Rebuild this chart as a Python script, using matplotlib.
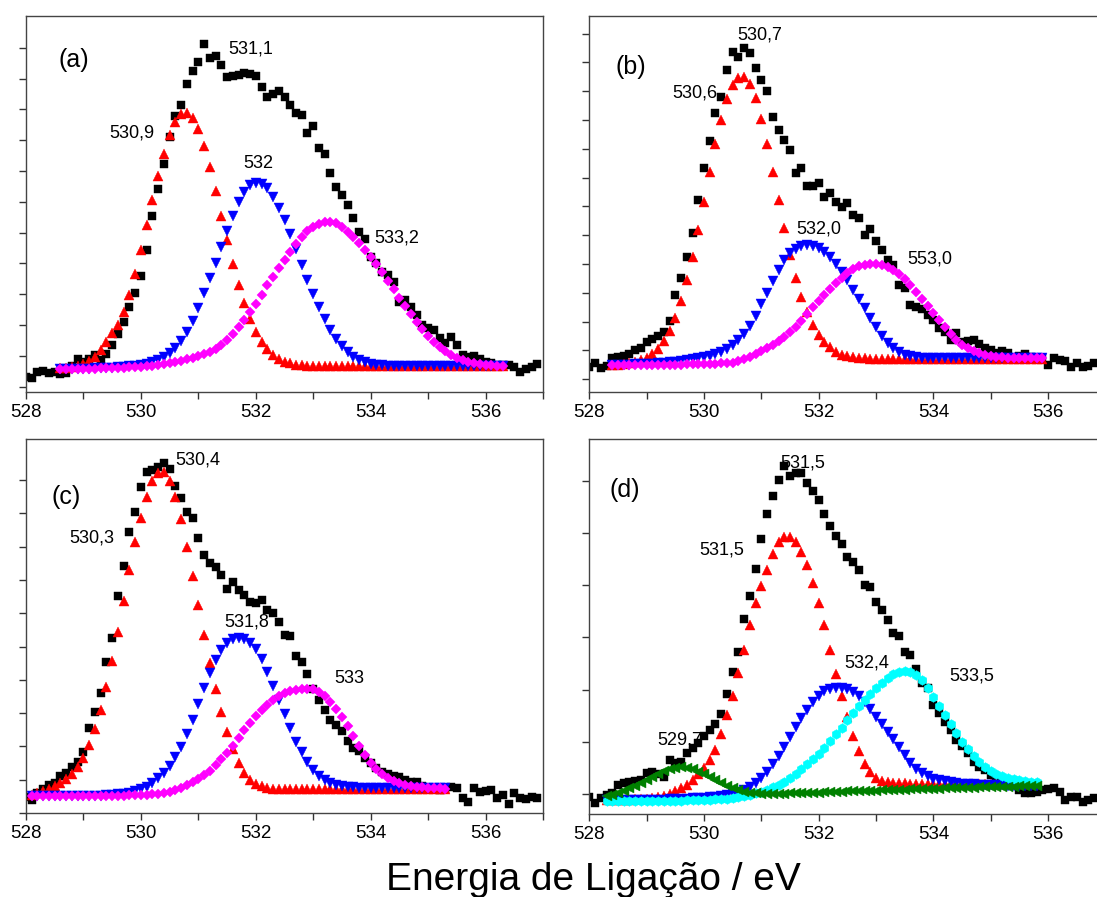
import numpy as np
import matplotlib
matplotlib.use('Agg')
import matplotlib.pyplot as plt
from matplotlib.ticker import MultipleLocator, FormatStrFormatter

# O1s spectra, intensity in arbitrary units, binding energy sampled every 0.1 eV
step_eV = 0.1

# ---- (a) ----
a_exp_start = 528.0
a_exp = [15, 14, 20, 21, 19, 20, 18, 19, 26, 33,
         30, 33, 37, 32, 38, 47, 58, 70, 85, 99,
         116, 142, 176, 203, 228, 255, 276, 287, 308, 321,
         330, 348, 334, 336, 327, 315, 316, 317, 319, 318,
         316, 305, 295, 298, 301, 295, 287, 279, 277, 259,
         266, 244, 238, 219, 205, 197, 187, 174, 160, 153,
         135, 129, 120, 117, 110, 90, 92, 85, 77, 67,
         64, 62, 54, 49, 55, 47, 37, 35, 36, 33,
         30, 29, 27, 27, 27, 25, 20, 23, 25, 28]
a_fit_start = 528.6
a_red = [24, 24, 25, 26, 28, 31, 35, 42, 50, 59, 67, 80, 97, 118,
         142, 167, 192, 216, 238, 257, 270, 278, 279, 274,
         263, 246, 225, 201, 176, 152, 128, 107, 89, 73,
         60, 50, 43, 37, 33, 30, 29, 27, 27, 26,
         26, 26, 26, 26, 26, 26, 26, 26, 26, 26,
         26, 26, 26, 26, 26, 26, 26, 26, 26, 26,
         26, 26, 26, 26, 26, 26, 26, 26, 26, 26,
         26, 26, 26, 26]
a_blue = [23, 23, 23, 23, 23, 23, 24, 24, 24, 24, 25, 25, 26, 26,
          27, 28, 30, 32, 35, 39, 44, 51, 60, 71,
          84, 99, 114, 129, 145, 161, 176, 190, 200, 207,
          209, 208, 204, 195, 184, 172, 158, 143, 127, 112,
          98, 85, 73, 62, 53, 46, 40, 35, 32, 30,
          28, 27, 27, 26, 26, 26, 26, 26, 26, 26,
          26, 26, 26, 26, 26, 26, 26, 26, 26, 26,
          26, 26, 26, 26]
a_magenta = [23, 23, 23, 23, 23, 23, 23, 24, 24, 24, 24, 24, 25, 25,
             25, 26, 26, 27, 28, 29, 30, 31, 33, 34,
             36, 38, 40, 43, 47, 52, 58, 65, 72, 80,
             88, 97, 107, 115, 124, 132, 140, 148, 155, 161,
             165, 168, 170, 170, 169, 165, 160, 155, 149, 142,
             135, 128, 120, 111, 103, 94, 86, 78, 70, 63,
             56, 50, 45, 41, 37, 34, 32, 30, 29, 28,
             27, 27, 26, 26]
a_labels = ['(a)', '531,1', '530,9', '532', '533,2']

# ---- (b) ----
b_exp_start = 528.0
b_exp = [25, 29, 24, 26, 34, 35, 36, 38, 42, 44,
         50, 53, 56, 60, 71, 97, 114, 135, 159, 192,
         224, 251, 279, 295, 322, 340, 335, 344, 339, 324,
         312, 301, 275, 262, 252, 242, 219, 224, 206, 206,
         209, 195, 199, 190, 185, 189, 177, 174, 157, 163,
         151, 142, 132, 127, 107, 104, 87, 85, 83, 77,
         72, 64, 60, 52, 59, 50, 51, 52, 48, 44,
         42, 39, 41, 39, 34, 36, 38, 35, 34, 34,
         27, 34, 32, 31, 25, 29, 25, 26, 29]
b_fit_start = 528.4
b_red = [27, 27, 28, 29, 30, 32,
         34, 38, 43, 51, 61, 74, 91, 112, 135, 162,
         190, 220, 248, 272, 293, 307, 314, 315, 308, 294,
         273, 248, 220, 192, 164, 137, 114, 95, 80, 67,
         57, 50, 45, 40, 37, 36, 35, 34, 34, 33,
         33, 33, 33, 33, 33, 33, 33, 33, 33, 33,
         33, 33, 33, 33, 33, 33, 33, 33, 33, 33,
         33, 33, 33, 33, 33, 33, 33, 33, 33, 33]
b_blue = [27, 27, 27, 27, 28, 28,
          28, 28, 29, 29, 30, 30, 31, 32, 33, 34,
          35, 36, 38, 40, 43, 47, 52, 58, 66, 76,
          88, 99, 111, 122, 132, 139, 143, 146, 147, 146,
          144, 140, 135, 128, 120, 112, 102, 93, 84, 74,
          65, 56, 49, 44, 40, 37, 36, 35, 34, 34,
          34, 34, 34, 34, 34, 34, 34, 34, 34, 34,
          34, 34, 34, 34, 34, 34, 34, 34, 34, 34]
b_magenta = [27, 27, 27, 27, 27, 27,
             27, 27, 27, 27, 27, 27, 27, 28, 28, 28,
             28, 28, 28, 29, 29, 29, 31, 33, 35, 38,
             41, 44, 47, 51, 55, 60, 65, 71, 78, 85,
             91, 97, 103, 109, 114, 119, 123, 126, 127, 128,
             128, 127, 125, 122, 118, 113, 107, 100, 93, 86,
             79, 72, 65, 58, 52, 47, 44, 41, 39, 37,
             36, 35, 35, 34, 34, 34, 34, 34, 34, 34]
b_labels = ['(b)', '530,7', '530,6', '532,0', '553,0']

# ---- (c) ----
c_exp_start = 528.0
c_exp = [16, 13, 20, 24, 28, 30, 37, 40, 46, 51,
         61, 85, 101, 120, 151, 175, 217, 247, 281, 301,
         326, 341, 343, 346, 350, 344, 327, 315, 301, 295,
         275, 258, 250, 246, 238, 224, 231, 223, 218, 211,
         210, 213, 203, 200, 191, 178, 177, 157, 151, 139,
         124, 113, 103, 93, 88, 82, 72, 65, 62, 55,
         50, 45, 41, 39, 37, 36, 33, 31, 31, 27,
         25, 24, 23, 24, 26, 25, 15, 11, 25, 21,
         22, 23, 15, 18, 9, 20, 15, 14, 16, 15]
c_fit_start = 528.1
c_red = [18, 20, 22, 24, 27, 30, 34, 39, 46,
         55, 68, 84, 103, 126, 152, 181, 212, 243, 271,
         295, 316, 332, 340, 341, 332, 316, 294, 266, 237,
         208, 178, 150, 124, 101, 81, 64, 50, 40, 33,
         29, 27, 25, 24, 24, 24, 24, 24, 24, 24,
         24, 24, 24, 24, 24, 24, 24, 24, 24, 24,
         24, 24, 24, 24, 24, 24, 24, 24, 24, 24,
         24, 24, 24, 24]
c_blue = [17, 17, 17, 17, 17, 17, 17, 17, 17,
          17, 17, 17, 17, 18, 18, 19, 19, 20, 22,
          24, 26, 30, 35, 40, 47, 56, 66, 79, 93,
          109, 125, 140, 153, 163, 170, 174, 175, 174, 170,
          164, 154, 141, 127, 113, 99, 85, 71, 61, 51,
          43, 37, 33, 30, 28, 27, 26, 26, 25, 25,
          25, 25, 25, 25, 25, 25, 25, 25, 25, 25,
          25, 25, 25, 25]
c_magenta = [17, 17, 17, 17, 17, 17, 17, 17, 17,
             17, 17, 17, 17, 17, 17, 17, 17, 18, 18,
             18, 18, 19, 19, 20, 21, 23, 25, 28, 31,
             34, 38, 42, 48, 54, 60, 67, 75, 83, 90,
             97, 103, 108, 113, 117, 120, 122, 123, 124, 124,
             124, 121, 117, 111, 104, 96, 87, 77, 67, 58,
             50, 44, 39, 35, 32, 30, 28, 27, 26, 26,
             25, 25, 25, 24]
c_labels = ['(c)', '530,4', '530,3', '531,8', '533']

# ---- (d) ----
d_exp_start = 528.0
d_exp = [17, 11, 16, 19, 21, 29, 31, 32, 33, 34,
         41, 42, 40, 37, 54, 51, 52, 61, 66, 71,
         78, 84, 90, 100, 120, 142, 162, 195, 218, 245,
         275, 300, 318, 334, 348, 338, 341, 341, 331, 323,
         314, 300, 288, 278, 270, 257, 252, 244, 229, 227,
         212, 204, 194, 181, 178, 162, 159, 145, 131, 126,
         109, 101, 92, 84, 74, 68, 61, 52, 47, 44,
         39, 34, 31, 29, 31, 24, 21, 21, 22, 24,
         25, 26, 22, 14, 17, 17, 12, 14, 16]
d_fit_start = 528.3
d_red = [14, 14, 14, 14, 14, 15, 15,
         15, 16, 17, 18, 20, 23, 26, 29, 34, 40,
         46, 54, 64, 80, 99, 118, 141, 164, 189, 211,
         228, 244, 260, 272, 277, 277, 272, 262, 249, 231,
         211, 189, 164, 140, 118, 97, 78, 63, 50, 42,
         36, 33, 32, 31, 31, 31, 30, 30, 30, 30,
         30, 30, 30, 30, 30, 30, 30, 30, 30, 30,
         30, 30, 30, 30, 30, 30, 30, 30, 30]
d_blue = [14, 14, 14, 14, 14, 14, 14,
          14, 14, 14, 14, 15, 15, 15, 15, 16, 16,
          16, 17, 17, 18, 19, 20, 22, 24, 27, 31,
          36, 42, 50, 58, 67, 77, 87, 96, 104, 112,
          118, 123, 125, 126, 126, 125, 122, 118, 112, 105,
          97, 90, 82, 75, 67, 59, 51, 45, 41, 38,
          35, 34, 33, 32, 31, 30, 30, 30, 29, 29,
          29, 29, 29, 28, 28, 28, 28, 28, 28]
d_cyan = [13, 13, 13, 13, 13, 13, 13,
          13, 13, 13, 13, 13, 13, 13, 14, 14, 14,
          14, 14, 15, 15, 15, 16, 17, 18, 19, 21,
          22, 24, 27, 29, 32, 36, 40, 45, 50, 55,
          60, 66, 73, 80, 86, 94, 101, 108, 114, 120,
          126, 131, 136, 140, 142, 143, 142, 139, 134, 126,
          117, 108, 99, 90, 81, 72, 65, 58, 52, 47,
          43, 40, 38, 36, 35, 34, 33, 32, 32]
d_green = [18, 19, 21, 23, 26, 28, 31,
           34, 37, 40, 43, 45, 46, 47, 46, 45, 42,
           40, 37, 34, 31, 28, 26, 24, 22, 21, 21,
           20, 20, 20, 20, 20, 21, 21, 21, 21, 21,
           21, 22, 22, 22, 22, 23, 23, 23, 23, 23,
           23, 24, 24, 24, 24, 24, 25, 25, 25, 25,
           25, 25, 26, 26, 26, 26, 26, 26, 27, 27,
           27, 27, 27, 27, 27, 28, 28, 28, 28]
d_labels = ['(d)', '531,5', '531,5', '532,4', '533,5', '529,7']


def plot_panel(ax, **kargs):
    fig_config = kargs['fig_config']
    exp = np.asarray(kargs['exp'], dtype=float)
    x_exp = kargs['exp_start'] + step_eV * np.arange(len(exp))
    ax.plot(x_exp, exp, linestyle='none', marker='s', color='black',
            ms=fig_config['square_size'], mew=0.3)

    for comp, style in zip(kargs['components'], kargs['styles']):
        comp = np.asarray(comp, dtype=float)
        x_fit = kargs['fit_start'] + step_eV * np.arange(len(comp))
        ax.plot(x_fit, comp, linestyle='none', mew=0.3,
                mec=style['color'], **style)

    for text, (xt, yt) in zip(kargs['labels'], kargs['label_pos']):
        size = fig_config['letter_size'] if text.startswith('(') \
            else fig_config['label_size']
        ax.text(xt, yt, text, fontsize=size, ha='center', va='center')

    ax.set_xlim(528, 537)
    ax.set_ylim(0, kargs['y_top'])
    ax.xaxis.set_major_locator(MultipleLocator(2))
    ax.xaxis.set_minor_locator(MultipleLocator(1))
    ax.xaxis.set_major_formatter(FormatStrFormatter('%d'))
    y0, dy, n = kargs['yticks']
    ax.set_yticks([y0 + dy * k for k in range(n)])
    ax.tick_params(which='both', direction='out', length=5, width=1,
                   color='#333333', labelsize=fig_config['tick_size'],
                   labelleft=False)
    for spine in ax.spines.values():
        spine.set_color('#444444')
        spine.set_linewidth(1.0)


if __name__ == "__main__":

    fig_config = {}
    fig_config['fig_width'] = 10.97
    fig_config['fig_height'] = 8.97
    fig_config['dpi_size'] = 100
    fig_config['square_size'] = 6.0
    fig_config['label_size'] = 13
    fig_config['letter_size'] = 18
    fig_config['tick_size'] = 13.5
    fig_config['xlabel_size'] = 28

    plt.rcParams['font.family'] = ['Liberation Sans', 'DejaVu Sans']

    red = dict(marker='^', color='#ff0000', ms=7.5)
    blue = dict(marker='v', color='#0000ff', ms=7.5)
    magenta = dict(marker='D', color='#ff00ff', ms=5.0)
    cyan = dict(marker='h', color='#00ffff', ms=7.0)
    green = dict(marker='<', color='#008000', ms=7.5)

    fig = plt.figure(figsize=(fig_config['fig_width'],
                              fig_config['fig_height']))

    ax_a = fig.add_axes([0.0237, 0.5630, 0.4713, 0.4192])
    ax_b = fig.add_axes([0.5372, 0.5630, 0.4705, 0.4192])
    ax_c = fig.add_axes([0.0237, 0.0936, 0.4713, 0.4166])
    ax_d = fig.add_axes([0.5372, 0.0925, 0.4705, 0.4177])

    plot_panel(ax_a, exp=a_exp, exp_start=a_exp_start, fit_start=a_fit_start,
               components=[a_red, a_blue, a_magenta],
               styles=[red, blue, magenta], labels=a_labels,
               label_pos=[(528.83, 332), (531.91, 343), (529.84, 259),
                          (532.05, 228), (534.45, 154)],
               y_top=376, yticks=(5.3, 30.8, 12), fig_config=fig_config)

    plot_panel(ax_b, exp=b_exp, exp_start=b_exp_start, fit_start=b_fit_start,
               components=[b_red, b_blue, b_magenta],
               styles=[red, blue, magenta], labels=b_labels,
               label_pos=[(528.73, 325), (530.98, 357), (529.84, 299),
                          (532.0, 163), (533.94, 133)],
               y_top=376, yticks=(12.7, 28.8, 13), fig_config=fig_config)

    plot_panel(ax_c, exp=c_exp, exp_start=c_exp_start, fit_start=c_fit_start,
               components=[c_red, c_blue, c_magenta],
               styles=[red, blue, magenta], labels=c_labels,
               label_pos=[(528.7, 316), (530.99, 353), (529.15, 275),
                          (531.84, 191), (533.62, 135)],
               y_top=373.7, yticks=(0, 33.3, 11), fig_config=fig_config)

    plot_panel(ax_d, exp=d_exp, exp_start=d_exp_start, fit_start=d_fit_start,
               components=[d_red, d_blue, d_cyan, d_green],
               styles=[red, blue, cyan, green], labels=d_labels,
               label_pos=[(528.62, 324), (531.72, 351), (530.31, 264),
                          (532.84, 151), (534.67, 138), (529.58, 74)],
               y_top=374.7, yticks=(20.1, 52.2, 7), fig_config=fig_config)

    fig.text(0.5406, 0.019, 'Energia de Ligação / eV',
             fontsize=fig_config['xlabel_size'], ha='center', va='center')

    plt.savefig('out.png', format='png', dpi=fig_config['dpi_size'])
